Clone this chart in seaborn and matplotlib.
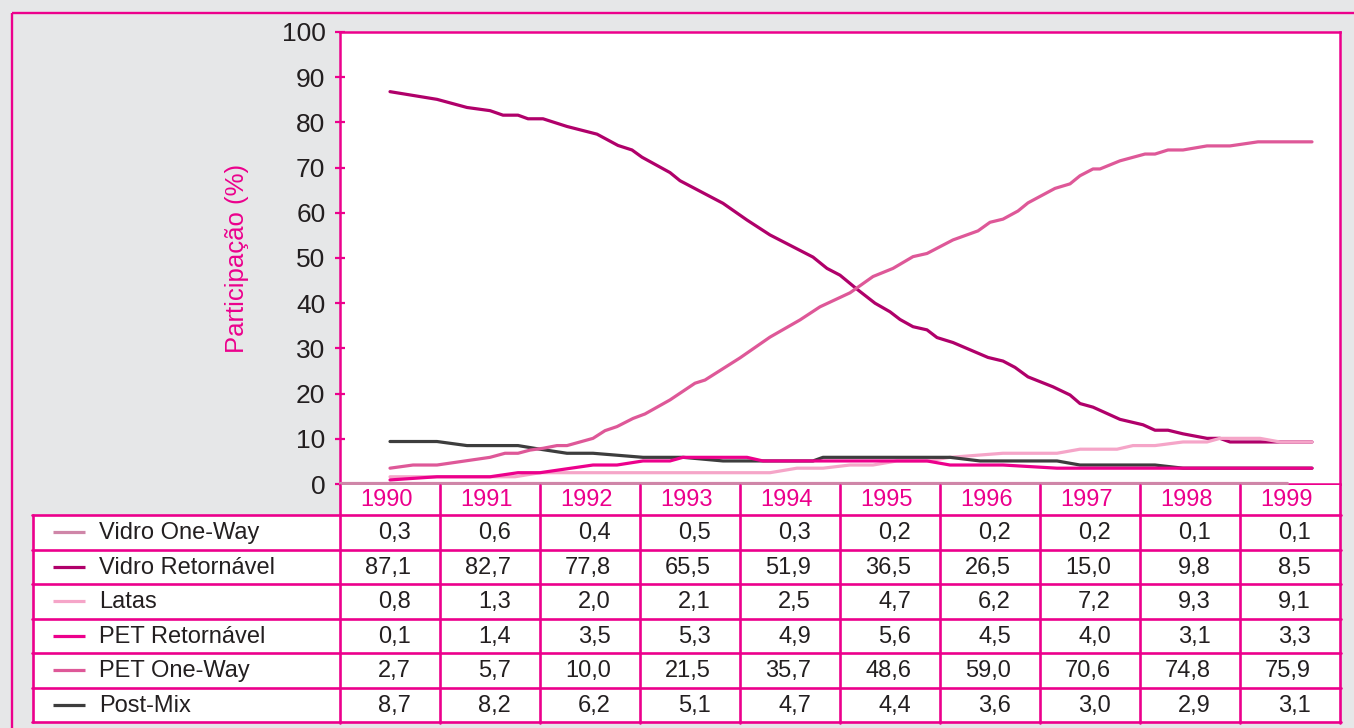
import matplotlib
matplotlib.use("Agg")
import matplotlib.pyplot as plt
import seaborn as sns
import pandas as pd
from matplotlib.patches import Rectangle

# ---------------- data ----------------
anos = [1990, 1991, 1992, 1993, 1994, 1995, 1996, 1997, 1998, 1999]
series = ["Vidro One-Way", "Vidro Retornável", "Latas",
          "PET Retornável", "PET One-Way", "Post-Mix"]

tab_vidro_ow = [0.3, 0.6, 0.4, 0.5, 0.3, 0.2, 0.2, 0.2, 0.1, 0.1]
tab_vidro_ret = [87.1, 82.7, 77.8, 65.5, 51.9, 36.5, 26.5, 15.0, 9.8, 8.5]
tab_latas = [0.8, 1.3, 2.0, 2.1, 2.5, 4.7, 6.2, 7.2, 9.3, 9.1]
tab_pet_ret = [0.1, 1.4, 3.5, 5.3, 4.9, 5.6, 4.5, 4.0, 3.1, 3.3]
tab_pet_ow = [2.7, 5.7, 10.0, 21.5, 35.7, 48.6, 59.0, 70.6, 74.8, 75.9]
tab_postmix = [8.7, 8.2, 6.2, 5.1, 4.7, 4.4, 3.6, 3.0, 2.9, 3.1]

# line series (time in years, share in %)
vidro_ow_x = [1989.5, 1992.0, 1995.0, 1998.97]
vidro_ow_y = [0.2, 0.2, 0.2, 0.2]

vidro_ret_x = [1990.00, 1990.47, 1990.77, 1991.00, 1991.13, 1991.28, 1991.38, 1991.53,
               1991.77, 1992.07, 1992.28, 1992.42, 1992.52, 1992.80, 1992.90, 1993.33,
               1993.57, 1993.80, 1994.23, 1994.37, 1994.50, 1994.67, 1994.85, 1995.00,
               1995.10, 1995.23, 1995.37, 1995.47, 1995.63, 1995.98, 1996.13, 1996.25,
               1996.38, 1996.63, 1996.80, 1996.90, 1997.03, 1997.20, 1997.30, 1997.53,
               1997.65, 1997.78, 1997.93, 1998.17, 1998.30, 1998.40, 1999.22]
vidro_ret_y = [86.8, 85.1, 83.3, 82.6, 81.6, 81.6, 80.8, 80.8,
               79.1, 77.4, 74.9, 73.9, 72.3, 68.9, 67.1, 62.1,
               58.4, 55.1, 50.2, 47.7, 46.2, 43.1, 40.0, 38.1,
               36.4, 34.8, 34.1, 32.4, 31.3, 28.0, 27.2, 25.8,
               23.7, 21.5, 19.7, 17.8, 17.0, 15.3, 14.3, 13.1,
               11.9, 11.9, 11.1, 10.1, 10.1, 9.3, 9.3]

latas_x = [1990.00, 1991.25, 1991.50, 1993.80, 1994.07, 1994.33, 1994.60, 1994.83,
           1995.07, 1995.37, 1995.60, 1996.13, 1996.67, 1996.90, 1997.27, 1997.43,
           1997.65, 1997.93, 1998.17, 1998.30, 1998.70, 1998.90, 1999.22]
latas_y = [1.6, 1.6, 2.5, 2.5, 3.5, 3.5, 4.2, 4.2,
           5.1, 5.1, 5.9, 6.8, 6.8, 7.7, 7.7, 8.5,
           8.5, 9.3, 9.3, 10.1, 10.1, 9.3, 9.3]

postmix_x = [1990.00, 1990.47, 1990.77, 1991.28, 1991.50, 1991.77, 1992.03, 1992.53,
             1992.93, 1993.33, 1994.23, 1994.33, 1995.60, 1995.90, 1996.67, 1996.90,
             1997.65, 1997.93, 1999.22]
postmix_y = [9.4, 9.4, 8.5, 8.5, 7.7, 6.8, 6.8, 5.9,
             5.9, 5.1, 5.1, 5.9, 5.9, 5.1, 5.1, 4.2,
             4.2, 3.5, 3.5]

pet_ret_x = [1990.00, 1990.47, 1991.00, 1991.28, 1991.50, 1992.03, 1992.27, 1992.53,
             1992.80, 1992.93, 1993.57, 1993.73, 1995.37, 1995.60, 1996.13, 1996.67,
             1999.22]
pet_ret_y = [0.9, 1.6, 1.6, 2.5, 2.5, 4.2, 4.2, 5.1,
             5.1, 5.9, 5.9, 5.1, 5.1, 4.2, 4.2, 3.5,
             3.5]

pet_ow_x = [1990.00, 1990.23, 1990.47, 1991.00, 1991.15, 1991.28, 1991.40, 1991.53,
            1991.67, 1991.77, 1992.03, 1992.15, 1992.27, 1992.43, 1992.55, 1992.80,
            1993.05, 1993.15, 1993.50, 1993.80, 1994.10, 1994.30, 1994.60, 1994.83,
            1995.03, 1995.23, 1995.37, 1995.63, 1995.88, 1996.00, 1996.13, 1996.28,
            1996.38, 1996.65, 1996.80, 1996.90, 1997.03, 1997.10, 1997.30, 1997.55,
            1997.65, 1997.78, 1997.93, 1998.17, 1998.40, 1998.68, 1999.22]
pet_ow_y = [3.5, 4.2, 4.2, 5.9, 6.8, 6.8, 7.5, 7.9,
            8.5, 8.5, 10.1, 11.8, 12.7, 14.5, 15.5, 18.6,
            22.3, 23.0, 27.9, 32.5, 36.3, 39.2, 42.3, 45.9,
            47.7, 50.3, 51.0, 54.0, 56.0, 57.9, 58.6, 60.4,
            62.2, 65.4, 66.4, 68.2, 69.7, 69.7, 71.5, 73.0,
            73.0, 73.9, 73.9, 74.8, 74.8, 75.7, 75.7]

cores = {
    "Vidro One-Way": "#cf86a8",
    "Vidro Retornável": "#b0006a",
    "Latas": "#f5a5c8",
    "PET Retornável": "#ec008c",
    "PET One-Way": "#de5898",
    "Post-Mix": "#3d3d3d",
}
ordem_desenho = ["Vidro One-Way", "Vidro Retornável", "Latas",
                 "Post-Mix", "PET Retornável", "PET One-Way"]

linhas = {
    "Vidro One-Way": (vidro_ow_x, vidro_ow_y),
    "Vidro Retornável": (vidro_ret_x, vidro_ret_y),
    "Latas": (latas_x, latas_y),
    "PET Retornável": (pet_ret_x, pet_ret_y),
    "PET One-Way": (pet_ow_x, pet_ow_y),
    "Post-Mix": (postmix_x, postmix_y),
}
tabela = {
    "Vidro One-Way": tab_vidro_ow,
    "Vidro Retornável": tab_vidro_ret,
    "Latas": tab_latas,
    "PET Retornável": tab_pet_ret,
    "PET One-Way": tab_pet_ow,
    "Post-Mix": tab_postmix,
}

rows = []
for s in series:
    xs, ys = linhas[s]
    for i, (a, v) in enumerate(zip(xs, ys)):
        rows.append({"ano": a, "valor": v, "serie": s, "ordem": i})
df = pd.DataFrame(rows)

# ---------------- style ----------------
sns.set_theme(style="white")
plt.rcParams["font.family"] = ["Liberation Sans", "DejaVu Sans"]

ROSA = "#ec008c"
CINZA = "#e6e7e8"
TXT = "#231f20"

W, H = 1354, 728
fig = plt.figure(figsize=(W / 100, H / 100), dpi=100)
fig.patch.set_facecolor(CINZA)

# main plot area (pixels: x 340-1340, y 32-484)
ax = fig.add_axes([340 / W, 1 - 484 / H, 1000 / W, 452 / H])
ax.set_facecolor("white")
sns.lineplot(data=df, x="ano", y="valor", hue="serie", hue_order=ordem_desenho,
             palette=cores, estimator=None, sort=False, units="serie",
             linewidth=2.3, legend=False, ax=ax)
for ln in ax.lines:
    ln.set_clip_on(False)
ax.set_xlim(anos[0] - 0.5, anos[-1] + 0.5)
ax.set_ylim(0, 100)
ax.set_yticks(range(0, 101, 10))
ax.set_xticks([])
ax.set_xlabel("")
ax.set_ylabel("")
ax.tick_params(axis="y", direction="inout", length=7, width=1.6, color=ROSA,
               labelsize=19, labelcolor=TXT, pad=7, left=True)
for sp in ax.spines.values():
    sp.set_color(ROSA)
    sp.set_linewidth(1.8)
    sp.set_zorder(0.5)

# overlay in pixel coordinates for borders and the data table
tax = fig.add_axes([0, 0, 1, 1])
tax.set_xlim(0, W)
tax.set_ylim(H, 0)
tax.axis("off")
tax.patch.set_alpha(0)

# outer frame
tax.plot([11.5, W], [12.5, 12.5], color=ROSA, lw=1.7, solid_capstyle="butt")
tax.plot([11.5, 11.5], [12.5, H], color=ROSA, lw=1.7, solid_capstyle="butt")

# y label
tax.text(237, 258, "Participação (%)", rotation=90, ha="center", va="center",
         color=ROSA, fontsize=18.5)

col_l = 340
col_w = 100
tab_l = 33
head_t = 485
row_t = 515
row_h = 34.5
n = len(series)
tab_b = row_t + n * row_h
right = col_l + col_w * len(anos)

tax.add_patch(Rectangle((col_l, head_t), right - col_l, row_t - head_t,
                        facecolor="white", edgecolor="none", zorder=1))
tax.add_patch(Rectangle((tab_l, row_t), right - tab_l, tab_b - row_t,
                        facecolor="white", edgecolor="none", zorder=1))

lw_t = 1.9
# horizontal lines
for i in range(n + 1):
    yy = row_t + i * row_h
    tax.plot([tab_l - 1, right + 1], [yy, yy], color=ROSA, lw=lw_t, zorder=3)
# vertical lines
tax.plot([tab_l, tab_l], [row_t, tab_b], color=ROSA, lw=lw_t, zorder=3)
for j in range(len(anos) + 1):
    xx = col_l + j * col_w
    tax.plot([xx, xx], [head_t, tab_b + 1], color=ROSA, lw=lw_t, zorder=3)

# header (years)
for j, a in enumerate(anos):
    tax.text(col_l + j * col_w + col_w / 2 - 3, 500.5, str(a),
             ha="center", va="center", color=ROSA, fontsize=17, zorder=4)

# rows
for i, s in enumerate(series):
    yc = row_t + i * row_h + row_h / 2
    tax.plot([53, 85], [yc, yc], color=cores[s], lw=2.3, zorder=4,
             solid_capstyle="butt")
    tax.text(99, yc + 1, s, ha="left", va="center", color=TXT, fontsize=17,
             zorder=4)
    for j, v in enumerate(tabela[s]):
        tax.text(col_l + j * col_w + 71, yc + 1, f"{v:.1f}".replace(".", ","),
                 ha="right", va="center", color=TXT, fontsize=17, zorder=4)

fig.savefig("out.png", dpi=100, facecolor=fig.get_facecolor())
